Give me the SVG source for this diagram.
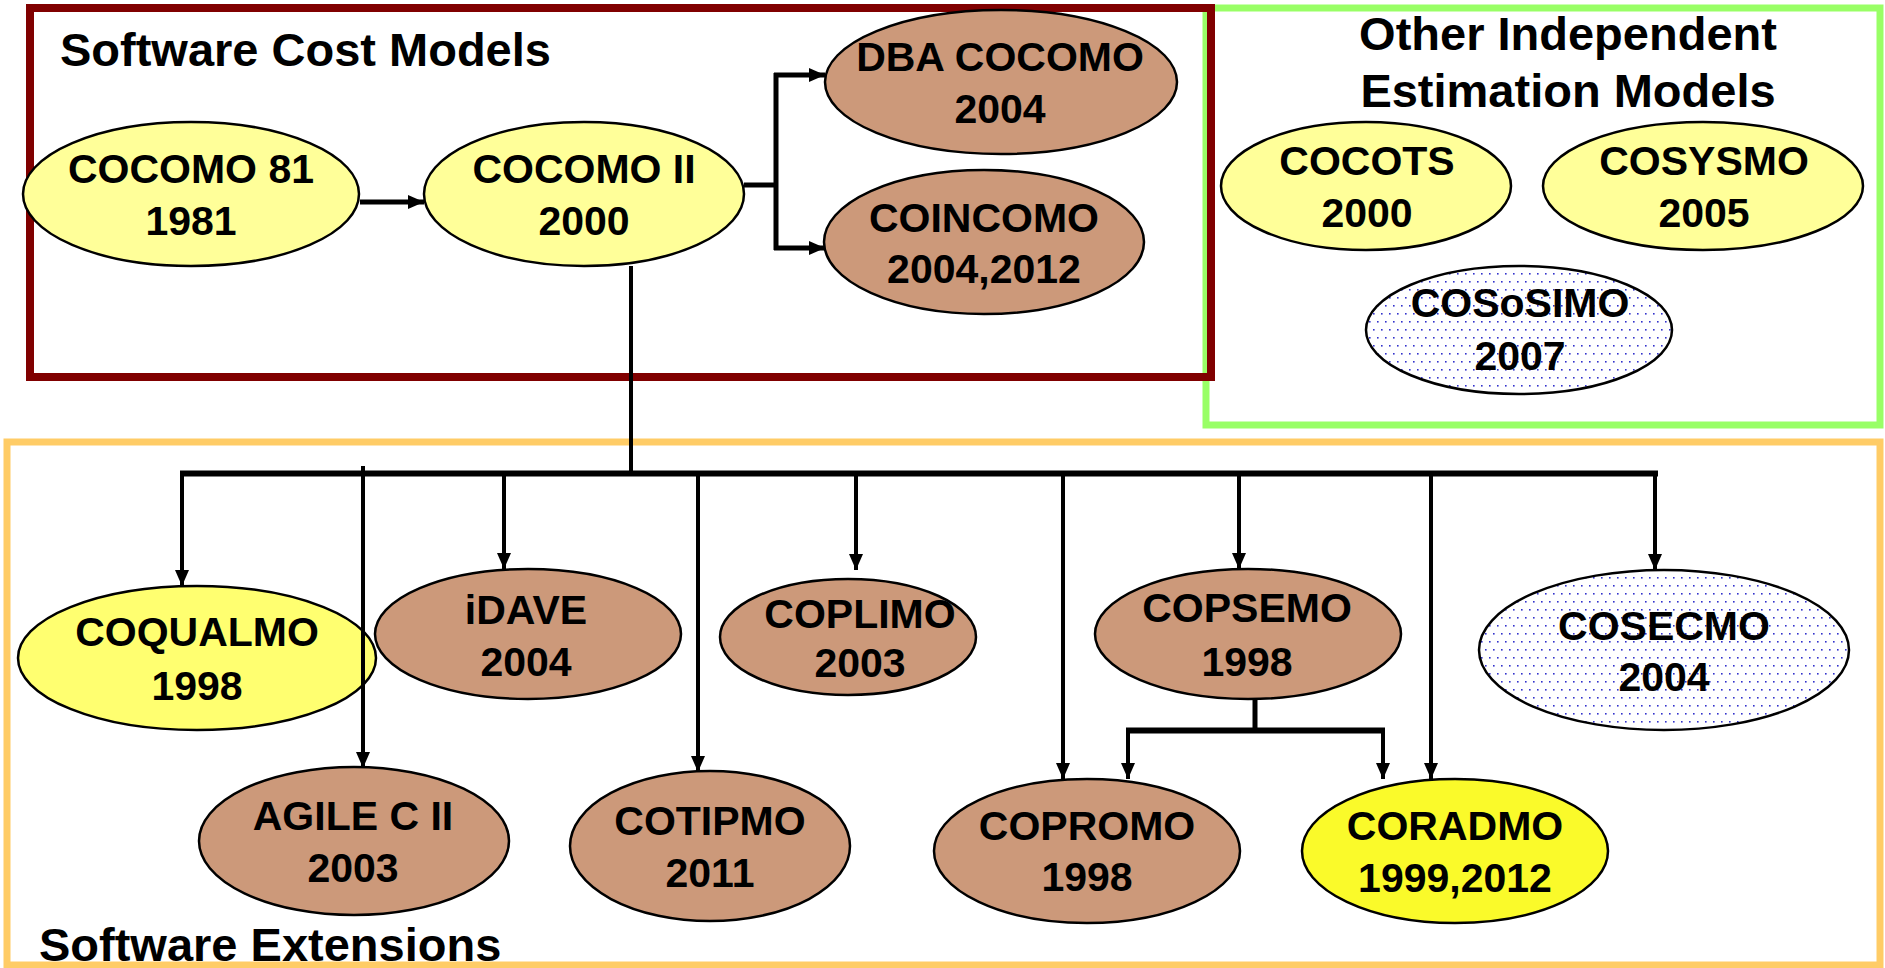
<svg xmlns="http://www.w3.org/2000/svg" width="1885" height="968" viewBox="0 0 1885 968">
<style>
.lbl{font-family:"Liberation Sans",Arial,sans-serif;font-weight:bold;font-size:41px;fill:#000;text-anchor:middle}
.ttl{font-family:"Liberation Sans",Arial,sans-serif;font-weight:bold;font-size:47px;fill:#000}
.nd{stroke:#000;stroke-width:2.5}
.y1{fill:#FFFF99}
.y2{fill:#FFFF70}
.y3{fill:#FAFA2A}
.br{fill:#CC997A}
.dt{fill:url(#dots)}
.cn{stroke:#000;stroke-width:4;fill:none}
.ar{marker-end:url(#ah)}
</style>
<defs>
<pattern id="dots" x="0" y="0" width="8" height="16" patternUnits="userSpaceOnUse">
<rect width="8" height="16" fill="#fff"/>
<rect x="1" y="1" width="1.6" height="1.6" fill="#3333CC"/>
<rect x="5" y="9" width="1.6" height="1.6" fill="#3333CC"/>
</pattern>
<marker id="ah" markerUnits="userSpaceOnUse" markerWidth="16" markerHeight="14" refX="16" refY="7" orient="auto">
<path d="M0,0 L16,7 L0,14 z" fill="#000"/>
</marker>
</defs>
<rect width="1885" height="968" fill="#fff"/>
<g id="box-other">
<rect x="1206" y="8" width="674" height="417" fill="none" stroke="#99FF66" stroke-width="7"/>
</g>
<g id="box-cost">
<rect x="30" y="8" width="1181" height="369" fill="none" stroke="#800000" stroke-width="8"/>
</g>
<g id="box-ext">
<rect x="7" y="442" width="1873" height="523" fill="none" stroke="#FFCC66" stroke-width="7"/>
</g>
<g id="titles">
<text class="ttl" x="60" y="66">Software Cost Models</text>
<text class="ttl" x="1568" y="50" text-anchor="middle">Other Independent</text>
<text class="ttl" x="1568" y="107" text-anchor="middle">Estimation Models</text>
<text class="ttl" x="39" y="961">Software Extensions</text>
</g>
<g id="cocomo81"><ellipse class="nd y1" cx="191" cy="194" rx="168" ry="72"/><text class="lbl" x="191" y="183">COCOMO 81</text><text class="lbl" x="191" y="235">1981</text></g>
<g id="cocomo2"><ellipse class="nd y1" cx="584" cy="194" rx="160" ry="72"/><text class="lbl" x="584" y="183">COCOMO II</text><text class="lbl" x="584" y="235">2000</text></g>
<g id="dbacocomo"><ellipse class="nd br" cx="1001" cy="82" rx="176" ry="72"/><text class="lbl" x="1000" y="71">DBA COCOMO</text><text class="lbl" x="1000" y="123">2004</text></g>
<g id="coincomo"><ellipse class="nd br" cx="984" cy="242" rx="160" ry="72"/><text class="lbl" x="984" y="232">COINCOMO</text><text class="lbl" x="984" y="283">2004,2012</text></g>
<g id="cocots"><ellipse class="nd y1" cx="1366" cy="186" rx="145" ry="64"/><text class="lbl" x="1367" y="175">COCOTS</text><text class="lbl" x="1367" y="227">2000</text></g>
<g id="cosysmo"><ellipse class="nd y1" cx="1703" cy="186" rx="160" ry="64"/><text class="lbl" x="1704" y="175">COSYSMO</text><text class="lbl" x="1704" y="227">2005</text></g>
<g id="cososimo"><ellipse class="nd dt" cx="1519" cy="330" rx="153" ry="64"/><text class="lbl" x="1520" y="317">COSoSIMO</text><text class="lbl" x="1520" y="370">2007</text></g>
<g id="coqualmo"><ellipse class="nd y2" cx="197" cy="658" rx="179" ry="72"/><text class="lbl" x="197" y="646">COQUALMO</text><text class="lbl" x="197" y="700">1998</text></g>
<g id="idave"><ellipse class="nd br" cx="528" cy="634" rx="153" ry="65"/><text class="lbl" x="526" y="624">iDAVE</text><text class="lbl" x="526" y="676">2004</text></g>
<g id="coplimo"><ellipse class="nd br" cx="848" cy="637" rx="128" ry="58"/><text class="lbl" x="860" y="628">COPLIMO</text><text class="lbl" x="860" y="677">2003</text></g>
<g id="copsemo"><ellipse class="nd br" cx="1248" cy="634" rx="153" ry="65"/><text class="lbl" x="1247" y="622">COPSEMO</text><text class="lbl" x="1247" y="676">1998</text></g>
<g id="cosecmo"><ellipse class="nd dt" cx="1664" cy="650" rx="185" ry="80"/><text class="lbl" x="1664" y="640">COSECMO</text><text class="lbl" x="1664" y="691">2004</text></g>
<g id="agile"><ellipse class="nd br" cx="354" cy="841" rx="155" ry="74"/><text class="lbl" x="353" y="830">AGILE C II</text><text class="lbl" x="353" y="882">2003</text></g>
<g id="cotipmo"><ellipse class="nd br" cx="710" cy="846" rx="140" ry="75"/><text class="lbl" x="710" y="835">COTIPMO</text><text class="lbl" x="710" y="887">2011</text></g>
<g id="copromo"><ellipse class="nd br" cx="1087" cy="851" rx="153" ry="72"/><text class="lbl" x="1087" y="840">COPROMO</text><text class="lbl" x="1087" y="891">1998</text></g>
<g id="coradmo"><ellipse class="nd y3" cx="1455" cy="851" rx="153" ry="72"/><text class="lbl" x="1455" y="840">CORADMO</text><text class="lbl" x="1455" y="892">1999,2012</text></g>
<g id="connectors">
<line class="cn ar" x1="360" y1="202" x2="424" y2="202" style="stroke-width:5"/>
<polyline class="cn" points="744,185 776,185" style="stroke-width:5"/>
<line class="cn" x1="776" y1="73" x2="776" y2="250" style="stroke-width:5"/>
<line class="cn ar" x1="774" y1="75" x2="825" y2="75" style="stroke-width:5"/>
<line class="cn ar" x1="774" y1="248" x2="825" y2="248" style="stroke-width:5"/>
<line class="cn" x1="631" y1="266" x2="631" y2="474" style="stroke-width:4"/>
<line class="cn" x1="180" y1="473.5" x2="1658" y2="473.5" style="stroke-width:6"/>
<line class="cn ar" x1="182" y1="472" x2="182" y2="586"/>
<line class="cn ar" x1="363" y1="466" x2="363" y2="768"/>
<line class="cn ar" x1="504" y1="472" x2="504" y2="569"/>
<line class="cn ar" x1="698" y1="476" x2="698" y2="772"/>
<line class="cn ar" x1="856" y1="472" x2="856" y2="570"/>
<line class="cn ar" x1="1063" y1="472" x2="1063" y2="779"/>
<line class="cn ar" x1="1239" y1="472" x2="1239" y2="569"/>
<line class="cn ar" x1="1431" y1="472" x2="1431" y2="779"/>
<line class="cn ar" x1="1655" y1="472" x2="1655" y2="570"/>
<line class="cn" x1="1255" y1="699" x2="1255" y2="731" style="stroke-width:5"/>
<line class="cn" x1="1126" y1="730.5" x2="1385" y2="730.5" style="stroke-width:6"/>
<line class="cn ar" x1="1128" y1="729" x2="1128" y2="779"/>
<line class="cn ar" x1="1383" y1="729" x2="1383" y2="779"/>
</g>
</svg>
